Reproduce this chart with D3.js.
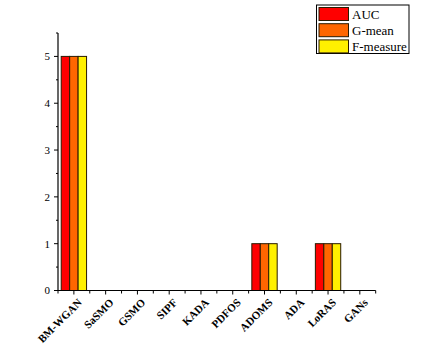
<!DOCTYPE html>
<html>
<head>
<meta charset="utf-8">
<script src="https://cdn.jsdelivr.net/npm/d3@7"></script>
<style>
  body { margin: 0; background: #fff; }
  text { font-family: "Liberation Serif", "Times New Roman", serif; }
</style>
</head>
<body>
<svg id="chart" width="444" height="364"></svg>
<script>
// data
var methods = ["BM-WGAN", "SaSMO", "GSMO", "SIPF", "KADA", "PDFOS", "ADOMS", "ADA", "LoRAS", "GANs"];
var seriesNames = ["AUC", "G-mean", "F-measure"];
var auc      = [5, 0, 0, 0, 0, 0, 1, 0, 1, 0];
var gmean    = [5, 0, 0, 0, 0, 0, 1, 0, 1, 0];
var fmeasure = [5, 0, 0, 0, 0, 0, 1, 0, 1, 0];
var colors = ["#FF0000", "#FF6600", "#FFF000"];
var yTicks = [0, 1, 2, 3, 4, 5];

function drawChart() {
  var svg = d3.select("#chart");
  var pLeft = 58, pRight = 375.7, pTop = 33, pBottom = 290.5;

  var x = d3.scaleBand().domain(methods).range([pLeft, pRight]).paddingInner(0).paddingOuter(0);
  var xs = d3.scaleBand().domain(seriesNames).range([0, x.bandwidth()]).paddingInner(0).paddingOuter(0.38);
  var y = d3.scaleLinear().domain([0, 5.5]).range([pBottom, pTop]);

  var allSeries = [auc, gmean, fmeasure];

  // bars
  var rows = [];
  methods.forEach(function(m, i) {
    seriesNames.forEach(function(s, j) {
      rows.push({method: m, series: s, value: allSeries[j][i], color: colors[j]});
    });
  });

  svg.append("g").selectAll("rect")
    .data(rows.filter(function(d) { return d.value > 0; }))
    .enter().append("rect")
    .attr("x", function(d) { return x(d.method) + xs(d.series); })
    .attr("y", function(d) { return y(d.value); })
    .attr("width", xs.bandwidth())
    .attr("height", function(d) { return y(0) - y(d.value); })
    .attr("fill", function(d) { return d.color; })
    .attr("stroke", "#2a1a00")
    .attr("stroke-width", 1);

  // y axis
  var yAxis = svg.append("g").attr("transform", "translate(" + pLeft + ",0)");
  yAxis.append("line").attr("x1", 0).attr("x2", 0).attr("y1", pTop).attr("y2", pBottom)
    .attr("stroke", "#000").attr("stroke-width", 1.2);
  yAxis.selectAll("line.major").data(yTicks).enter().append("line")
    .attr("class", "major")
    .attr("x1", -4).attr("x2", 0)
    .attr("y1", function(d) { return y(d); }).attr("y2", function(d) { return y(d); })
    .attr("stroke", "#000");
  yAxis.selectAll("line.minor").data(yTicks.map(function(d) { return d + 0.5; })).enter().append("line")
    .attr("class", "minor")
    .attr("x1", -2).attr("x2", 0)
    .attr("y1", function(d) { return y(d); }).attr("y2", function(d) { return y(d); })
    .attr("stroke", "#000");
  yAxis.selectAll("text").data(yTicks).enter().append("text")
    .attr("x", -8).attr("y", function(d) { return y(d); })
    .attr("dy", "0.35em")
    .attr("text-anchor", "end")
    .attr("font-size", 11)
    .text(function(d) { return d; });

  // x axis
  var xAxis = svg.append("g").attr("transform", "translate(0," + pBottom + ")");
  xAxis.append("line").attr("x1", pLeft).attr("x2", pRight).attr("y1", 0).attr("y2", 0)
    .attr("stroke", "#000").attr("stroke-width", 1.2);
  xAxis.selectAll("line.major").data(methods).enter().append("line")
    .attr("class", "major")
    .attr("x1", function(d) { return x(d) + x.bandwidth() / 2; })
    .attr("x2", function(d) { return x(d) + x.bandwidth() / 2; })
    .attr("y1", 0).attr("y2", 4)
    .attr("stroke", "#000");
  xAxis.selectAll("line.minor").data(methods.concat(["end"])).enter().append("line")
    .attr("class", "minor")
    .attr("x1", function(d, i) { return pLeft + i * x.step(); })
    .attr("x2", function(d, i) { return pLeft + i * x.step(); })
    .attr("y1", 0).attr("y2", 3)
    .attr("stroke", "#000");
  xAxis.selectAll("text").data(methods).enter().append("text")
    .attr("transform", function(d) {
      return "translate(" + (x(d) + x.bandwidth() / 2 + 6) + ",10) rotate(-45)";
    })
    .attr("text-anchor", "end")
    .attr("dy", "0.35em")
    .attr("font-size", 11)
    .attr("font-weight", "bold")
    .text(function(d) { return d; });

  // legend
  var legend = svg.append("g");
  legend.append("rect").attr("x", 316.5).attr("y", 5).attr("width", 92.5).attr("height", 48.5)
    .attr("fill", "#fff").attr("stroke", "#000").attr("stroke-width", 1);
  var item = legend.selectAll("g.item").data(seriesNames).enter().append("g")
    .attr("class", "item")
    .attr("transform", function(d, i) { return "translate(319," + (7.5 + i * 16.2) + ")"; });
  item.append("rect").attr("width", 29.5).attr("height", 13)
    .attr("fill", function(d, i) { return colors[i]; })
    .attr("stroke", "#2a1a00");
  item.append("text").attr("x", 33).attr("y", 11)
    .attr("font-size", 13)
    .text(function(d) { return d; });
}

drawChart();
</script>
</body>
</html>
